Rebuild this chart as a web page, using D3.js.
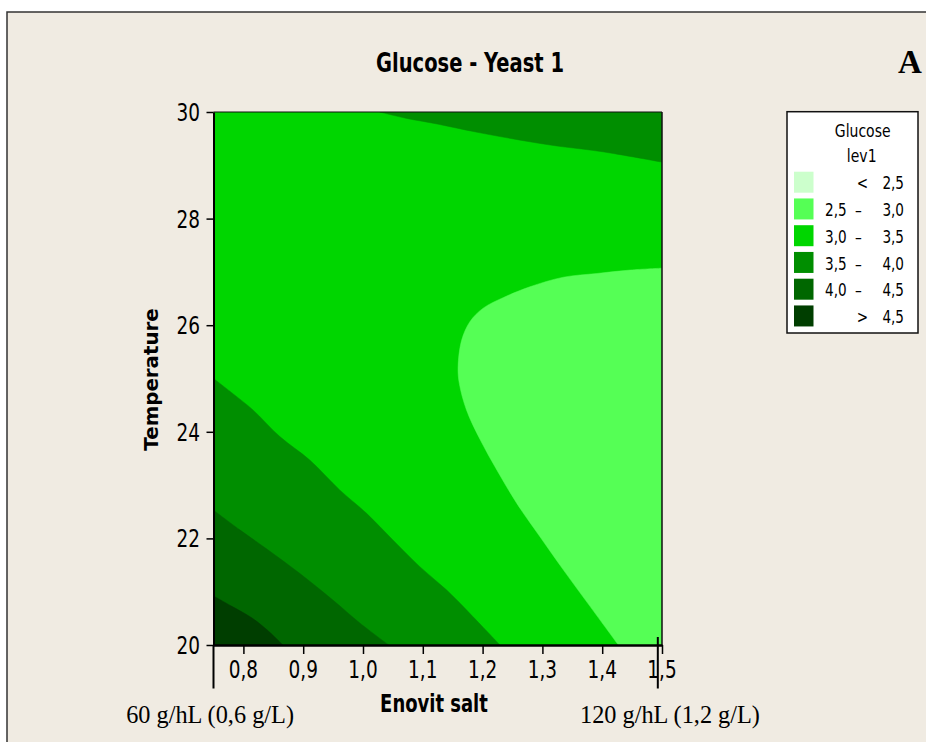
<!DOCTYPE html>
<html>
<head>
<meta charset="utf-8">
<script src="https://cdn.jsdelivr.net/npm/d3@7"></script>
<style>
  html, body { margin: 0; padding: 0; background: #ffffff; }
  svg { display: block; }
</style>
</head>
<body>
<svg id="chart" width="926" height="742"></svg>
<script>
// ---------------- DATA ----------------
const title = "Glucose - Yeast 1";
const xLabel = "Enovit salt";
const yLabel = "Temperature";
const xDomain = [0.75, 1.5];
const yDomain = [20, 30];
const xTicks = [0.8, 0.9, 1.0, 1.1, 1.2, 1.3, 1.4, 1.5];
const yTicks = [20, 22, 24, 26, 28, 30];

const legendTitle = ["Glucose", "lev1"];
const levels = [2.5, 3.0, 3.5, 4.0, 4.5];
const bandColors = ["#ccffcc", "#55ff55", "#00d600", "#008e00", "#006700", "#003e00"];

// contour lines [Enovit salt, Temperature]
const contour35Top = [[1.028, 30.0], [1.073, 29.88], [1.117, 29.79], [1.2, 29.6], [1.313, 29.38], [1.397, 29.26], [1.5, 29.06]];
const contour30 = [[1.5, 27.07], [1.447, 27.035], [1.391, 26.97], [1.335, 26.9], [1.279, 26.72], [1.235, 26.52],
  [1.201, 26.32], [1.179, 26.07], [1.165, 25.72], [1.159, 25.22], [1.161, 24.91], [1.173, 24.41], [1.196, 23.85],
  [1.224, 23.28], [1.257, 22.66], [1.296, 22.03], [1.335, 21.41], [1.38, 20.72], [1.427, 20.0]];
const contour35 = [[0.75, 25.0], [0.782, 24.72], [0.816, 24.41], [0.861, 23.91], [0.911, 23.47], [0.961, 22.91],
  [1.006, 22.47], [1.05, 21.97], [1.095, 21.47], [1.14, 21.03], [1.184, 20.53], [1.229, 20.0]];
const contour40 = [[0.75, 22.53], [0.794, 22.16], [0.838, 21.81], [0.894, 21.345], [0.95, 20.84], [0.995, 20.41], [1.043, 20.0]];
const contour45 = [[0.75, 20.92], [0.78, 20.73], [0.814, 20.51], [0.84, 20.28], [0.866, 20.0]];

const noteLeft = "60 g/hL (0,6 g/L)";
const noteRight = "120 g/hL (1,2 g/L)";
const noteMarks = [0.75, 1.493];
const panelLetter = "A";

// ---------------- DRAWING ----------------
const svg = d3.select("#chart");
const SANS = "Tahoma, 'DejaVu Sans', sans-serif";
const SERIF = "'Times New Roman', 'Liberation Serif', serif";
const comma = v => d3.format(".1f")(v).replace(".", ",");

// page frame
svg.append("rect").attr("x", 7).attr("y", 12).attr("width", 940).attr("height", 760)
  .attr("fill", "#f0ebe2").attr("stroke", "#333").attr("stroke-width", 1.5);

const plot = { left: 213.5, right: 662, top: 112, bottom: 645 };
const x = d3.scaleLinear().domain(xDomain).range([plot.left, plot.right]);
const y = d3.scaleLinear().domain(yDomain).range([plot.bottom, plot.top]);

svg.append("clipPath").attr("id", "clip").append("rect")
  .attr("x", plot.left).attr("y", plot.top)
  .attr("width", plot.right - plot.left).attr("height", plot.bottom - plot.top);

const g = svg.append("g").attr("clip-path", "url(#clip)");
// base band 3.0 - 3.5
g.append("rect").attr("x", plot.left).attr("y", plot.top)
  .attr("width", plot.right - plot.left).attr("height", plot.bottom - plot.top)
  .attr("fill", bandColors[2]);

const line = d3.line().x(d => x(d[0])).y(d => y(d[1])).curve(d3.curveCatmullRom);
function region(pts, corners, color) {
  let p = line(pts);
  corners.forEach(c => { p += "L" + x(c[0]) + "," + y(c[1]); });
  p += "Z";
  g.append("path").attr("d", p).attr("fill", color).attr("stroke", color).attr("stroke-width", 0.5);
}
region(contour35Top, [[1.5, 30], [1.028, 30]], bandColors[3]);
region(contour30, [[1.5, 20]], bandColors[1]);
region(contour35, [[0.75, 20]], bandColors[3]);
region(contour40, [[0.75, 20]], bandColors[4]);
region(contour45, [[0.75, 20]], bandColors[5]);

// frame of plot
svg.append("line").attr("x1", plot.left).attr("x2", plot.right).attr("y1", plot.top).attr("y2", plot.top)
  .attr("stroke", "#111").attr("stroke-width", 1.2);
svg.append("line").attr("x1", plot.right).attr("x2", plot.right).attr("y1", plot.top).attr("y2", plot.bottom)
  .attr("stroke", "#111").attr("stroke-width", 1.5);

// axes (tick lines via d3 axes)
const yAxis = svg.append("g").attr("transform", `translate(${plot.left},0)`)
  .call(d3.axisLeft(y).tickValues(yTicks).tickSize(7).tickSizeOuter(0).tickFormat(""));
const xAxis = svg.append("g").attr("transform", `translate(0,${plot.bottom})`)
  .call(d3.axisBottom(x).tickValues(xTicks).tickSize(9).tickSizeOuter(0).tickFormat(""));
yAxis.select(".domain").attr("stroke", "#000").attr("stroke-width", 2);
xAxis.select(".domain").attr("stroke", "#000").attr("stroke-width", 2.5);
svg.selectAll(".tick line").attr("stroke", "#000").attr("stroke-width", 1.5);

// tick labels
svg.append("g").selectAll("text").data(yTicks).join("text")
  .attr("transform", d => `translate(200,${y(d) + 9}) scale(1,1.33)`)
  .attr("text-anchor", "end").attr("font-family", SANS).attr("font-size", 18.5).attr("fill", "#000")
  .text(d => d);
svg.append("g").selectAll("text").data(xTicks).join("text")
  .attr("transform", d => `translate(${x(d)},678) scale(1,1.33)`)
  .attr("text-anchor", "middle").attr("font-family", SANS).attr("font-size", 18.5).attr("fill", "#000")
  .text(d => comma(d));

// axis titles
svg.append("text").attr("transform", "translate(434,711.5) scale(1,1.4)")
  .attr("text-anchor", "middle").attr("font-family", SANS).attr("font-weight", "bold")
  .attr("font-size", 18).text(xLabel);
svg.append("text").attr("transform", `translate(158.3,${(plot.top + plot.bottom) / 2 + 1}) rotate(-90)`)
  .attr("text-anchor", "middle").attr("font-family", SANS).attr("font-weight", "bold")
  .attr("font-size", 19.8).text(yLabel);

// title
svg.append("text").attr("transform", "translate(470,71.7) scale(1,1.38)")
  .attr("text-anchor", "middle").attr("font-family", SANS).attr("font-weight", "bold")
  .attr("font-size", 19.5).text(title);
svg.append("text").attr("x", 898).attr("y", 73).attr("font-family", SERIF).attr("font-weight", "bold")
  .attr("font-size", 33).text(panelLetter);

// legend
const lg = svg.append("g");
lg.append("rect").attr("x", 787).attr("y", 111.7).attr("width", 131).attr("height", 221.3)
  .attr("fill", "#fff").attr("stroke", "#111").attr("stroke-width", 1.5);
lg.append("text").attr("transform", "translate(862.7,136.7) scale(1,1.3)")
  .attr("text-anchor", "middle").attr("font-family", SANS).attr("font-size", 14).text(legendTitle[0]);
lg.append("text").attr("transform", "translate(861.7,161.7) scale(1,1.3)")
  .attr("text-anchor", "middle").attr("font-family", SANS).attr("font-size", 14).text(legendTitle[1]);
const bands = bandColors.map((c, i) => ({
  color: c,
  lo: i === 0 ? null : levels[i - 1],
  hi: i === levels.length ? null : levels[i]
}));
const row = lg.selectAll("g.row").data(bands).join("g").attr("class", "row")
  .attr("transform", (d, i) => `translate(0,${171.7 + i * 26.75})`);
row.append("rect").attr("x", 794).attr("y", 0).attr("width", 19.5).attr("height", 21).attr("fill", d => d.color);
const rowText = (sel, xpos, anchor, fn) => sel.append("text")
  .attr("transform", `translate(${xpos},17.6) scale(1,1.34)`)
  .attr("text-anchor", anchor).attr("font-family", SANS).attr("font-size", 13.6).text(fn);
rowText(row.filter(d => d.lo !== null && d.hi !== null), 846.7, "end", d => comma(d.lo));
rowText(row.filter(d => d.lo !== null && d.hi !== null), 858.3, "middle", () => "\u2013");
rowText(row.filter(d => d.lo === null), 862.5, "middle", () => "<");
rowText(row.filter(d => d.hi === null), 862.5, "middle", () => ">");
rowText(row, 904, "end", d => comma(d.hi !== null ? d.hi : d.lo));

// annotation marks and notes
svg.append("g").selectAll("line").data(noteMarks).join("line")
  .attr("x1", d => x(d)).attr("x2", d => x(d))
  .attr("y1", (d, i) => i === 0 ? 645 : 637).attr("y2", 688.5)
  .attr("stroke", "#000").attr("stroke-width", 2);
svg.append("text").attr("x", 294).attr("y", 723).attr("text-anchor", "end")
  .attr("font-family", SERIF).attr("font-size", 24.3).text(noteLeft);
svg.append("text").attr("x", 580).attr("y", 723)
  .attr("font-family", SERIF).attr("font-size", 24.3).text(noteRight);
</script>
</body>
</html>
